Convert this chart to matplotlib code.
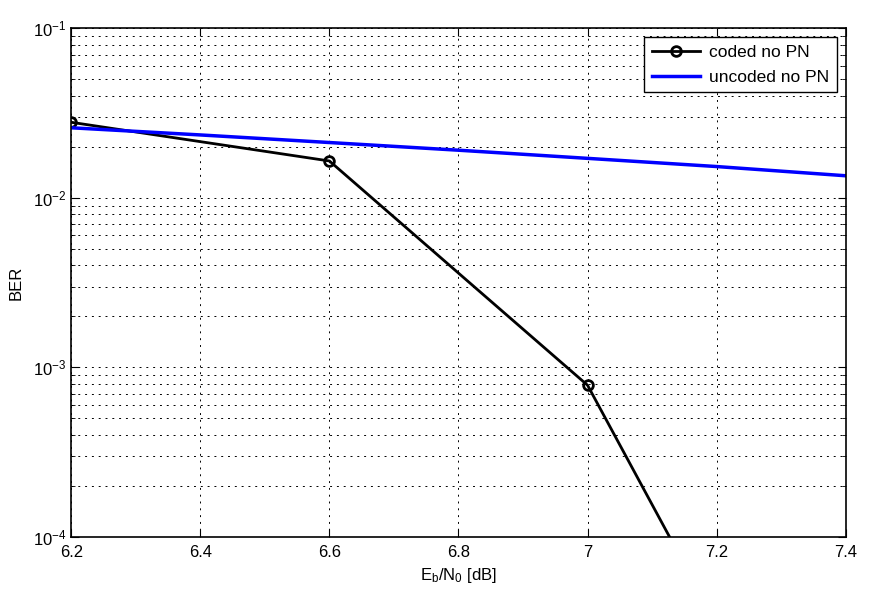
import matplotlib
matplotlib.use("Agg")
import matplotlib.pyplot as plt
import numpy as np

# Valores
ebn0_coded = [6.2, 6.6, 7.0, 7.4]
ber_coded = [0.0279, 0.0165, 7.85e-4, 1.2e-6]

ebn0_uncoded = [6.2, 6.4, 6.6, 6.8, 7.0, 7.2, 7.4]
ber_uncoded = [0.0259, 0.0235, 0.0212, 0.0191, 0.0171, 0.0153, 0.0135]

xticks = [6.2, 6.4, 6.6, 6.8, 7.0, 7.2, 7.4]
xticklabels = ['6.2', '6.4', '6.6', '6.8', '7', '7.2', '7.4']

plt.rcParams['font.family'] = ['Liberation Sans', 'DejaVu Sans']
plt.rcParams['mathtext.fontset'] = 'custom'
plt.rcParams['mathtext.rm'] = 'Liberation Sans'
plt.rcParams['mathtext.it'] = 'Liberation Sans'

fig = plt.figure(figsize=(8.77, 6.06), dpi=100)
ax = fig.add_axes([0.0813, 0.1139, 0.8830, 0.8394])

ax.semilogy(ebn0_coded, ber_coded, color='black', linewidth=2, marker='o',
            markersize=7, markerfacecolor='none', markeredgewidth=2,
            label='coded no PN')
ax.semilogy(ebn0_uncoded, ber_uncoded, color='blue', linewidth=2.5,
            label='uncoded no PN')

ax.set_xlim(6.2, 7.4)
ax.set_ylim(1e-4, 1e-1)
ax.set_xticks(xticks)
ax.set_xticklabels(xticklabels)

grid_style = dict(linestyle=(0, (2, 5)), color='black', linewidth=0.7)
ax.grid(True, which='major', **grid_style)
ax.grid(True, which='minor', axis='y', **grid_style)
ax.tick_params(which='both', direction='in', top=True, right=True, labelsize=12)
ax.tick_params(axis='x', pad=6)
ax.tick_params(which='major', length=6)
ax.tick_params(which='minor', length=3)
for s in ax.spines.values():
    s.set_linewidth(1.2)

ax.set_xlabel(r'E$_\mathrm{b}$/N$_\mathrm{0}$ [dB]', fontsize=12, labelpad=4)
ax.set_ylabel('BER', fontsize=12)
ax.yaxis.set_label_coords(-0.061, 0.5)

leg = ax.legend(loc='upper right', fontsize=12.5, fancybox=False, framealpha=1,
                edgecolor='black', borderaxespad=0.5, handlelength=2.8,
                handletextpad=0.5, borderpad=0.45, labelspacing=0.55)
leg.get_frame().set_linewidth(1)

fig.savefig('out.png', dpi=100)
